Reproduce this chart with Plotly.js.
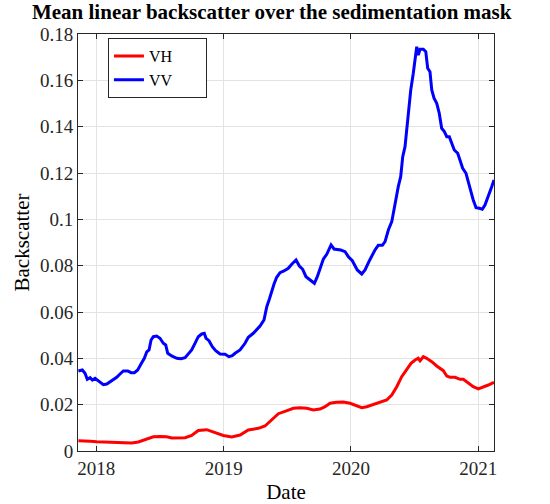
<!DOCTYPE html>
<html>
<head>
<meta charset="utf-8">
<script src="https://cdn.plot.ly/plotly-3.0.1.min.js"></script>
<style>html,body{margin:0;padding:0;background:#fff;}#chart{width:550px;height:504px;}</style>
</head>
<body>
<div id="chart"></div>
<script>
// Decimal-year dates and mean linear backscatter values
const vvDates = [2017.859,2017.890,2017.911,2017.929,2017.951,2017.969,2017.990,2018.008,2018.029,2018.055,2018.082,2018.108,2018.134,2018.160,2018.186,2018.212,2018.247,2018.273,2018.299,2018.325,2018.351,2018.377,2018.396,2018.414,2018.430,2018.448,2018.474,2018.500,2018.526,2018.545,2018.561,2018.592,2018.632,2018.665,2018.697,2018.723,2018.749,2018.775,2018.801,2018.828,2018.848,2018.862,2018.885,2018.911,2018.938,2018.972,2019.011,2019.042,2019.068,2019.090,2019.129,2019.168,2019.194,2019.233,2019.260,2019.286,2019.317,2019.339,2019.359,2019.378,2019.396,2019.417,2019.443,2019.474,2019.508,2019.535,2019.569,2019.595,2019.621,2019.647,2019.679,2019.713,2019.736,2019.763,2019.783,2019.810,2019.844,2019.867,2019.893,2019.920,2019.954,2019.980,2020.011,2020.032,2020.050,2020.085,2020.111,2020.145,2020.189,2020.215,2020.247,2020.268,2020.294,2020.321,2020.346,2020.372,2020.391,2020.407,2020.425,2020.438,2020.456,2020.470,2020.490,2020.504,2020.517,2020.529,2020.543,2020.569,2020.588,2020.603,2020.621,2020.635,2020.653,2020.674,2020.694,2020.713,2020.734,2020.753,2020.773,2020.792,2020.812,2020.839,2020.857,2020.878,2020.904,2020.922,2020.943,2020.961,2020.983,2021.009,2021.032,2021.053,2021.079,2021.106,2021.124];
const vvValues = [0.03454,0.03497,0.03354,0.03095,0.03164,0.03065,0.03138,0.03065,0.02948,0.02862,0.02892,0.02979,0.03065,0.03182,0.03324,0.03454,0.03454,0.0338,0.0338,0.03497,0.03756,0.04002,0.04274,0.0436,0.04792,0.04934,0.04965,0.04865,0.04649,0.04576,0.04218,0.04101,0.04002,0.03985,0.04028,0.04218,0.0436,0.04649,0.04934,0.05051,0.05081,0.04865,0.04762,0.04503,0.0433,0.04187,0.04175,0.04071,0.04114,0.04218,0.0436,0.04649,0.04908,0.05081,0.05224,0.05396,0.05655,0.0623,0.06549,0.0695,0.07209,0.07499,0.07697,0.07771,0.07887,0.0806,0.08245,0.07986,0.07844,0.07524,0.07382,0.0724,0.07524,0.07956,0.08276,0.08492,0.08893,0.0872,0.08707,0.08677,0.08604,0.08388,0.08215,0.07986,0.07814,0.07641,0.07814,0.08215,0.08677,0.0888,0.0888,0.09035,0.09541,0.09899,0.10693,0.1141,0.11842,0.12705,0.13137,0.13858,0.14579,0.15584,0.16305,0.16879,0.17454,0.17095,0.17341,0.17341,0.17238,0.16521,0.16374,0.15584,0.15226,0.1501,0.14579,0.13931,0.13784,0.13568,0.13568,0.13283,0.12994,0.12852,0.12562,0.12204,0.11988,0.11556,0.11194,0.10836,0.10503,0.10477,0.10434,0.1062,0.10978,0.1141,0.11699];

const vhDates = [2017.859,2017.911,2017.951,2018.003,2018.055,2018.134,2018.212,2018.278,2018.330,2018.396,2018.448,2018.500,2018.553,2018.592,2018.658,2018.697,2018.749,2018.801,2018.867,2018.919,2018.998,2019.064,2019.129,2019.194,2019.273,2019.325,2019.378,2019.430,2019.482,2019.548,2019.600,2019.653,2019.705,2019.757,2019.797,2019.836,2019.888,2019.940,2019.993,2020.046,2020.085,2020.124,2020.176,2020.229,2020.281,2020.321,2020.360,2020.399,2020.438,2020.472,2020.504,2020.529,2020.543,2020.569,2020.595,2020.635,2020.674,2020.726,2020.753,2020.779,2020.818,2020.857,2020.883,2020.922,2020.961,2021.001,2021.040,2021.079,2021.124];
const vhValues = [0.00445,0.00445,0.00419,0.00401,0.00389,0.00376,0.00376,0.00345,0.00389,0.00505,0.00617,0.00626,0.00617,0.00561,0.00553,0.00574,0.00669,0.00885,0.0092,0.0082,0.00669,0.00604,0.00691,0.00907,0.0098,0.01079,0.01338,0.0161,0.01714,0.01843,0.01869,0.01843,0.0177,0.01813,0.01912,0.02059,0.02102,0.02115,0.02059,0.01956,0.01869,0.01912,0.02016,0.02102,0.02202,0.02418,0.02776,0.03208,0.03497,0.03786,0.03928,0.04002,0.03898,0.04071,0.04002,0.03855,0.03669,0.03467,0.03238,0.03182,0.03182,0.03095,0.03095,0.02948,0.02776,0.02677,0.0275,0.02849,0.02966];

const seriesNames = ['VH', 'VV'];
const xTickVals = [2018, 2019, 2020, 2021];
const xTickText = ['2018', '2019', '2020', '2021'];
const yTickVals = [0, 0.02, 0.04, 0.06, 0.08, 0.1, 0.12, 0.14, 0.16, 0.18];
const yTickText = ['0', '0.02', '0.04', '0.06', '0.08', '0.1', '0.12', '0.14', '0.16', '0.18'];

const FONT = 'Liberation Serif';
const PAD = '\u00a0\u00a0\u00a0\u00a0\u00a0\u00a0\u00a0';

const traces = [
  {x: vhDates, y: vhValues, name: seriesNames[0] + PAD, type: 'scatter', mode: 'lines',
   line: {color: '#ff0000', width: 3}},
  {x: vvDates, y: vvValues, name: seriesNames[1] + PAD, type: 'scatter', mode: 'lines',
   line: {color: '#0000ff', width: 3}}
];

const axisCommon = {
  showline: true, linecolor: '#262626', linewidth: 1, mirror: 'allticks',
  ticks: 'inside', ticklen: 5, tickcolor: '#262626', tickwidth: 1,
  showgrid: true, gridcolor: '#e3e3e3', gridwidth: 1, zeroline: false,
  tickfont: {family: FONT, size: 19, color: '#262626'}
};

const layout = {
  width: 550, height: 504,
  margin: {l: 78, r: 56, t: 34, b: 53, pad: 0},
  paper_bgcolor: '#ffffff', plot_bgcolor: '#ffffff',
  font: {family: FONT, color: '#000000'},
  title: {text: '<b>Mean linear backscatter over the sedimentation mask</b>',
          font: {family: FONT, size: 21, color: '#000000'},
          xref: 'container', x: 0.494, xanchor: 'center',
          yref: 'container', y: 0.977, yanchor: 'middle'},
  xaxis: Object.assign({}, axisCommon, {
    range: [2017.856, 2021.124], tickvals: xTickVals, ticktext: xTickText,
    title: {text: 'Date', font: {family: FONT, size: 21, color: '#000000'}, standoff: 8}
  }),
  yaxis: Object.assign({}, axisCommon, {
    range: [0, 0.18], tickvals: yTickVals, ticktext: yTickText,
    title: {text: 'Backscatter', font: {family: FONT, size: 21, color: '#000000'}, standoff: 4}
  }),
  showlegend: true,
  legend: {x: 0.072, y: 0.99, xanchor: 'left', yanchor: 'top',
           bgcolor: '#ffffff', bordercolor: '#262626', borderwidth: 1,
           font: {family: FONT, size: 16, color: '#000000'},
           tracegroupgap: 0, itemwidth: 30}
};

Plotly.newPlot('chart', traces, layout, {staticPlot: true, displayModeBar: false});
</script>
</body>
</html>
